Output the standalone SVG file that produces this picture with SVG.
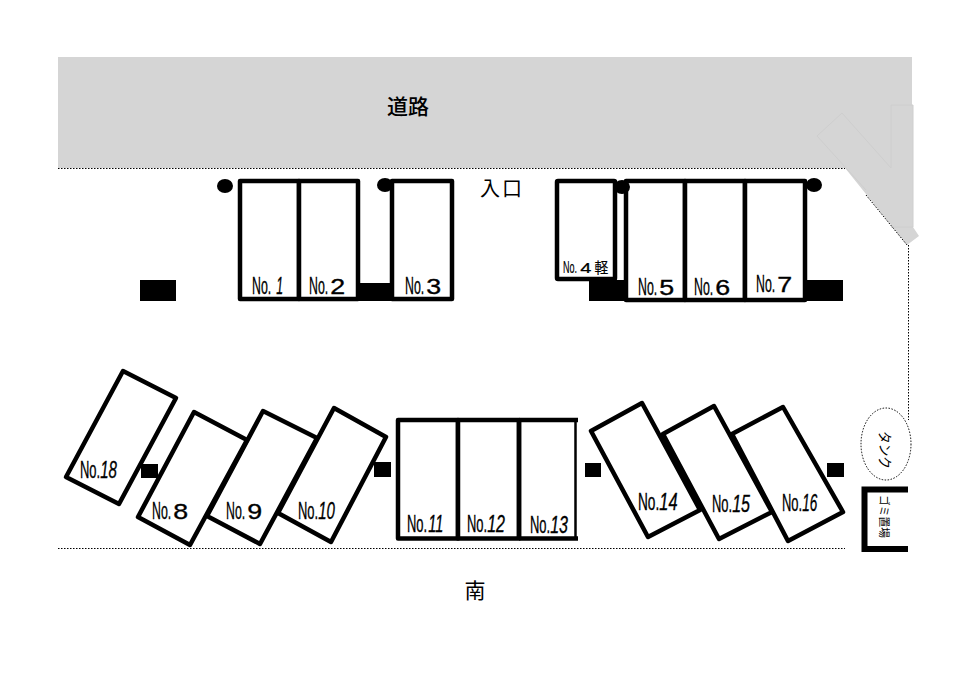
<svg xmlns="http://www.w3.org/2000/svg" width="971" height="688" viewBox="0 0 971 688">
<style>
.s{fill:#fff;stroke:#000;stroke-width:4.500;stroke-linejoin:round}
.b{fill:#000}
.d{fill:none;stroke:#000;stroke-width:1;stroke-dasharray:1.500 1.500}
.t{font-family:"Liberation Sans",sans-serif;font-size:24px;fill:#000;stroke:#000;stroke-width:.35}
.w{font-size:22px}
.i{font-style:italic}
.j{font-family:"Noto Sans CJK JP",sans-serif;fill:#000}
</style>
<rect width="971" height="688" fill="#fff"/>
<g id="road">
<path d="M58 57H912V105H913V227L919 236L907 245L845 168H58Z" fill="#d5d5d5"/>
<path d="M842 113L817 136L866 190M842 113L891 168M891 168V105H913V227L891 227" fill="none" stroke="#cecece" stroke-width="1"/>
<text class="j" x="408" y="114" font-size="21" font-weight="500" text-anchor="middle">道路</text>
</g>
<g id="boundaries">
<path class="d" d="M58 168.500H845M866 195L907 245M908.500 245V420M58 548.500H845"/>
</g>
<g id="stops">
<rect x="140" y="280" width="36" height="21" class="b"/><rect x="358" y="283" width="34" height="18" class="b"/><rect x="589" y="280" width="37" height="21" class="b"/><rect x="805" y="280" width="38" height="21" class="b"/>
<rect x="141" y="464" width="17" height="14" class="b"/><rect x="374" y="462" width="17" height="15" class="b"/><rect x="585" y="463" width="16" height="14" class="b"/><rect x="827" y="463" width="17" height="14" class="b"/>
</g>
<text class="j" x="480" y="196" font-size="20" textLength="42" lengthAdjust="spacing">入口</text>
<text class="j" x="475" y="598" font-size="21" text-anchor="middle">南</text>
<g id="no1"><rect class="s" x="240" y="181" width="59" height="118"/><text class="t" transform="translate(252,294) scale(.514,1)">No.<tspan dx="10" class="i">1</tspan></text></g>
<g id="no2"><rect class="s" x="299" y="181" width="59" height="118"/><text class="t" transform="translate(309,294) scale(.514,1)">No.<tspan dx="4" class="w" textLength="29" lengthAdjust="spacingAndGlyphs">2</tspan></text></g>
<g id="no3"><rect class="s" x="392" y="181" width="60" height="118"/><text class="t" transform="translate(405,294) scale(.514,1)">No.<tspan dx="4" class="w" textLength="29" lengthAdjust="spacingAndGlyphs">3</tspan></text></g>
<g id="no4"><path d="M625 181V300" stroke="#000" stroke-width="2"/><rect class="s" x="557" y="181" width="58" height="98" rx="1"/><text class="t" transform="translate(563,273) scale(.53,1)" style="font-size:17px;stroke-width:.2">No.<tspan dx="6" style="font-size:15px" textLength="21" lengthAdjust="spacingAndGlyphs">4</tspan><tspan class="j" dx="6" style="font-size:15px" textLength="26" lengthAdjust="spacingAndGlyphs">軽</tspan></text></g>
<g id="no5"><rect class="s" x="626" y="181" width="59" height="119"/><text class="t" transform="translate(638,295) scale(.514,1)">No.<tspan dx="4" class="w" textLength="29" lengthAdjust="spacingAndGlyphs">5</tspan></text></g>
<g id="no6"><rect class="s" x="685" y="181" width="60" height="119"/><text class="t" transform="translate(694,295) scale(.514,1)">No.<tspan dx="4" class="w" textLength="29" lengthAdjust="spacingAndGlyphs">6</tspan></text></g>
<g id="no7"><rect class="s" x="745" y="181" width="60" height="119"/><text class="t" transform="translate(756,292) scale(.514,1)">No.<tspan dx="4" class="w" textLength="29" lengthAdjust="spacingAndGlyphs">7</tspan></text></g>
<g id="no18"><path class="s" d="M123 371L176 398L119 504L66 477Z"/><text class="t" transform="translate(80,478) scale(.54,1)">No.<tspan class="i" textLength="31" lengthAdjust="spacingAndGlyphs">18</tspan></text></g>
<g id="no9"><path class="s" d="M263 411L317 438L260 544L207 516Z"/><text class="t" transform="translate(226,519) scale(.514,1)">No.<tspan dx="4" class="w" textLength="29" lengthAdjust="spacingAndGlyphs">9</tspan></text></g>
<g id="no8"><path class="s" d="M194 412L247 440L190 545L138 517Z"/><text class="t" transform="translate(152,519) scale(.514,1)">No.<tspan dx="4" class="w" textLength="29" lengthAdjust="spacingAndGlyphs">8</tspan></text></g>
<g id="no10"><path class="s" d="M334 408L386 437L331 542L278 513Z"/><text class="t" transform="translate(298,519) scale(.54,1)">No.<tspan class="i" textLength="31" lengthAdjust="spacingAndGlyphs">10</tspan></text></g>
<g id="no11"><rect class="s" x="398" y="420" width="60" height="118.500"/><text class="t" transform="translate(407,532) scale(.54,1)">No.<tspan dx="2" class="i" textLength="28" lengthAdjust="spacingAndGlyphs">11</tspan></text></g>
<g id="no12"><rect class="s" x="458" y="420" width="61" height="118.500"/><text class="t" transform="translate(467,532) scale(.54,1)">No.<tspan class="i" textLength="33" lengthAdjust="spacingAndGlyphs">12</tspan></text></g>
<g id="no13"><path d="M519 420H578M519 538.500H578" stroke="#000" stroke-width="4.500"/><path d="M575.500 420V538.500" stroke="#000" stroke-width="2.500"/><path d="M519 420V538.500" stroke="#000" stroke-width="4.500"/><text class="t" transform="translate(530,533) scale(.54,1)">No.<tspan class="i" textLength="33" lengthAdjust="spacingAndGlyphs">13</tspan></text></g>
<g id="no14"><path class="s" d="M642 403L700 510L648 537L591 431Z"/><text class="t" transform="translate(638,510) scale(.57,1)">No.<tspan class="i" textLength="32" lengthAdjust="spacingAndGlyphs">14</tspan></text></g>
<g id="no16"><path class="s" d="M783 407L843 512L788 541L732 434Z"/><text class="t" transform="translate(782,511) scale(.54,1)">No.<tspan class="i" textLength="28" lengthAdjust="spacingAndGlyphs">16</tspan></text></g>
<g id="no15"><path class="s" d="M714 406L772 512L719 539L663 434Z"/><text class="t" transform="translate(712,512) scale(.54,1)">No.<tspan class="i" textLength="33" lengthAdjust="spacingAndGlyphs">15</tspan></text></g>
<g id="posts">
<ellipse cx="225" cy="186" rx="8" ry="7" class="b"/><ellipse cx="385" cy="185" rx="8" ry="7" class="b"/><ellipse cx="622" cy="187" rx="8" ry="7" class="b"/><ellipse cx="814" cy="185" rx="8" ry="7" class="b"/>
</g>
<g id="tank"><ellipse class="d" cx="886" cy="444" rx="25" ry="36"/><text class="j" transform="translate(880,431) rotate(90)" font-size="14" textLength="38" lengthAdjust="spacingAndGlyphs">タンク</text></g>
<g id="garbage"><path d="M908 489.500H864.500V549H908" fill="none" stroke="#000" stroke-width="6"/><text class="j" transform="translate(880,495) rotate(90)" font-size="11" textLength="43" lengthAdjust="spacingAndGlyphs">ゴミ置場</text></g>
</svg>
